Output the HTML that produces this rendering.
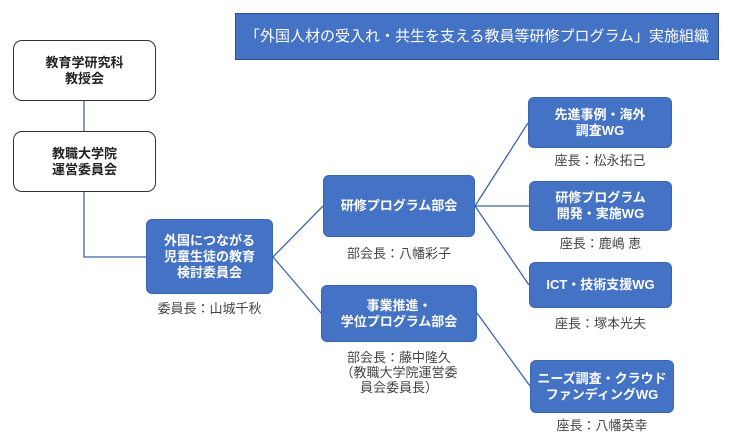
<!DOCTYPE html>
<html><head><meta charset="utf-8"><style>
body{margin:0;width:736px;height:443px;background:#fff;position:relative;overflow:hidden;font-family:"Liberation Sans","Noto Sans CJK JP",sans-serif}
.b{position:absolute;box-sizing:border-box;display:flex;align-items:center;justify-content:center;text-align:center;font-weight:bold;font-size:13px;line-height:16px}
.w{background:#fff;border:1.5px solid #333;border-radius:9px;color:#222}
.bl{background:#4472C4;border:1px solid #3a65b0;border-radius:6px;color:#fff}
.l{position:absolute;font-size:13px;color:#444;line-height:15px;text-align:center;white-space:nowrap}
</style></head><body>
<svg width="736" height="443" style="position:absolute;left:0;top:0">
<g stroke="#3e64a8" stroke-width="1.3" fill="none">
<line x1="84" y1="101" x2="84" y2="132"/>
<polyline points="84,192 84,257 146,257"/>
<line x1="273" y1="257" x2="323" y2="206"/>
<line x1="273" y1="257" x2="321" y2="313"/>
<line x1="475" y1="206" x2="528" y2="123"/>
<line x1="475" y1="206" x2="529" y2="206"/>
<line x1="475" y1="206" x2="529" y2="285"/>
<line x1="477" y1="313" x2="530" y2="386"/>
</g></svg>
<div class="b bl" style="left:235px;top:13px;width:484px;height:47px;border-radius:0;border-color:#2f4f8a;font-size:15px;font-weight:normal">「外国人材の受入れ・共生を支える教員等研修プログラム」実施組織</div>
<div class="b w" style="left:13px;top:40px;width:143px;height:61px">教育学研究科<br>教授会</div>
<div class="b w" style="left:13px;top:131px;width:143px;height:61px">教職大学院<br>運営委員会</div>
<div class="b bl" style="left:146px;top:219px;width:127px;height:75px">外国につながる<br>児童生徒の教育<br>検討委員会</div>
<div class="l" style="left:146px;top:301px;width:127px">委員長：山城千秋</div>
<div class="b bl" style="left:323px;top:175px;width:152px;height:62px">研修プログラム部会</div>
<div class="l" style="left:323px;top:246px;width:152px">部会長：八幡彩子</div>
<div class="b bl" style="left:321px;top:285px;width:156px;height:57px">事業推進・<br>学位プログラム部会</div>
<div class="l" style="left:321px;top:350px;width:156px;line-height:15px">部会長：藤中隆久<br>（教職大学院運営委<br>員会委員長）</div>
<div class="b bl" style="left:528px;top:97px;width:144px;height:51px">先進事例・海外<br>調査WG</div>
<div class="l" style="left:528px;top:153px;width:144px">座長：松永拓己</div>
<div class="b bl" style="left:529px;top:181px;width:143px;height:50px">研修プログラム<br>開発・実施WG</div>
<div class="l" style="left:529px;top:236px;width:143px">座長：鹿嶋 恵</div>
<div class="b bl" style="left:529px;top:262px;width:143px;height:46px">ICT・技術支援WG</div>
<div class="l" style="left:529px;top:316px;width:143px">座長：塚本光夫</div>
<div class="b bl" style="left:530px;top:360px;width:144px;height:53px">ニーズ調査・クラウド<br>ファンディングWG</div>
<div class="l" style="left:530px;top:418px;width:144px">座長：八幡英幸</div>
</body></html>
